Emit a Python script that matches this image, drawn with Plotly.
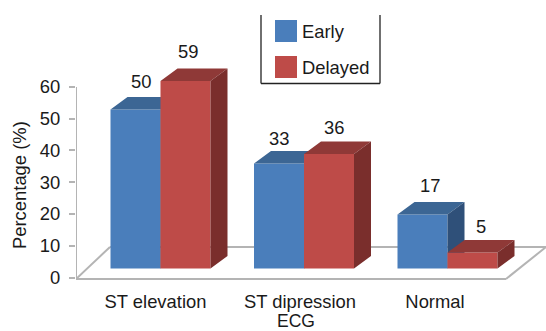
import plotly.graph_objects as go

categories = ["ST elevation", "ST dipression", "Normal"]
early = [50, 33, 17]
delayed = [59, 36, 5]
y_ticks = [0, 10, 20, 30, 40, 50, 60]

W, H = 546, 331
L, R, T, B = 76, 0, 0, 48
PX_Y = 3.18          # px per percentage point
PX_X = 143.5         # px per category
Y0_PX = 277.5        # pixel row of value 0
X0_PX = 160.5        # pixel column of the first category
xr = [(L - X0_PX) / PX_X, (W - R - X0_PX) / PX_X]
yr = [(Y0_PX - (H - B)) / PX_Y, Y0_PX / PX_Y]
BAR_W = 50 / PX_X
DX = 17 / PX_X
DY = 12.5 / PX_Y
BASE = 9 / PX_Y

BLUE, BLUE_TOP, BLUE_SIDE = "#4A7EBB", "#3C6694", "#2F5079"
RED, RED_TOP, RED_SIDE = "#BE4B48", "#8F3937", "#7A2E2C"
GRAY = "#B4B4B4"
FONT = "Liberation Sans, Arial, sans-serif"
TXT = "#1a1a1a"
FS = 18.4


def faces(values, left_offset):
    top_x, top_y, side_x, side_y = [], [], [], []
    for i, v in enumerate(values):
        x0 = i + left_offset
        x1 = x0 + BAR_W
        t = BASE + v
        top_x += [x0, x1, x1 + DX, x0 + DX, x0, None]
        top_y += [t, t, t + DY, t + DY, t, None]
        side_x += [x1, x1 + DX, x1 + DX, x1, x1, None]
        side_y += [BASE, BASE + DY, t + DY, t, BASE, None]
    return top_x, top_y, side_x, side_y


fig = go.Figure()


def add_series(name, values, left_offset, colors, xa, ya):
    front, top, side = colors
    fig.add_bar(x=list(range(3)), y=values, base=BASE, offset=left_offset, width=BAR_W,
                name=name, marker=dict(color=front, line=dict(width=0)),
                xaxis=xa, yaxis=ya, showlegend=False)
    tx, ty, sx, sy = faces(values, left_offset)
    for xs, ys, c in ((tx, ty, top), (sx, sy, side)):
        fig.add_scatter(x=xs, y=ys, mode="lines", fill="toself", fillcolor=c,
                        line=dict(width=0, color=c), xaxis=xa, yaxis=ya,
                        showlegend=False, hoverinfo="skip")


add_series("Early", early, -BAR_W, (BLUE, BLUE_TOP, BLUE_SIDE), "x2", "y2")
add_series("Delayed", delayed, 0, (RED, RED_TOP, RED_SIDE), "x3", "y3")


def px(x):
    return (x - L) / (W - L - R)


def py(y):
    return (H - B - y) / (H - B - T)


def dx_px(x):
    return (x - X0_PX) / PX_X


def dy_px(y):
    return (Y0_PX - y) / PX_Y


shapes = []
floor = [((76, 279), (506, 279)), ((506, 279), (546, 247)), ((546, 247), (110, 247)), ((110, 247), (76, 279)),
         ((76, 279), (76, 87))]
for (a, b) in floor:
    shapes.append(dict(type="line", xref="x", yref="y", x0=dx_px(a[0]), y0=dy_px(a[1]),
                       x1=dx_px(b[0]), y1=dy_px(b[1]), layer="below",
                       line=dict(color=GRAY, width=2)))
# legend frame (open at the top) and swatches
for x0, y0, x1, y1 in ((261, 15, 261, 83.5), (261, 83.5, 380, 83.5), (380, 83.5, 380, 15)):
    shapes.append(dict(type="line", xref="paper", yref="paper", x0=px(x0), y0=py(y0), x1=px(x1), y1=py(y1),
                       line=dict(color="#222222", width=1.3)))
for y0, c in ((20, BLUE), (56, RED)):
    shapes.append(dict(type="rect", xref="paper", yref="paper", x0=px(275), x1=px(297), y0=py(y0), y1=py(y0 + 22),
                       fillcolor=c, line=dict(width=0)))

annotations = []


def note(text, x, y, angle=0, xanchor="center", size=FS):
    annotations.append(dict(text=text, xref="paper", yref="paper", x=px(x), y=py(y), showarrow=False,
                            xanchor=xanchor, yanchor="middle", textangle=angle, borderpad=0,
                            font=dict(family=FONT, size=size, color=TXT)))


note("Early", 300.5, 31.5, xanchor="left")
note("Delayed", 300.5, 67.5, xanchor="left")
note("ECG", 296, 321, size=17.5)
note("Percentage (%)", 19, 185, angle=-90)

# data labels: offsets from the top of each front face, in px
early_shift = [(5.5, 28), (0, 25), (7.5, 29)]
delayed_shift = [(2.5, 29.5), (5, 27), (8, 26)]
for vals, off, shift in ((early, -BAR_W / 2, early_shift), (delayed, BAR_W / 2, delayed_shift)):
    for i, v in enumerate(vals):
        annotations.append(dict(text=str(v), x=i + off, y=BASE + v, xref="x", yref="y", showarrow=False,
                                xanchor="center", yanchor="middle", xshift=shift[i][0], yshift=shift[i][1],
                                font=dict(family=FONT, size=FS, color=TXT)))

hidden = dict(visible=False, fixedrange=True)
fig.update_layout(
    width=W, height=H, margin=dict(l=L, r=R, t=T, b=B), autosize=False,
    paper_bgcolor="white", plot_bgcolor="white", barmode="overlay", showlegend=False,
    font=dict(family=FONT, size=FS, color=TXT),
    xaxis=dict(range=xr, domain=[0, 1], tickmode="array",
               tickvals=[dx_px(155.5), dx_px(300), dx_px(435)], ticktext=categories,
               ticks="outside", ticklen=2, tickcolor="rgba(0,0,0,0)", showgrid=False, zeroline=False, showline=False),
    yaxis=dict(range=yr, domain=[0, 1], tickmode="array", tickvals=y_ticks, ticktext=[str(v) for v in y_ticks],
               ticks="outside", ticklen=6, tickcolor=GRAY, tickwidth=1.5, ticklabelstandoff=5,
               showgrid=False, zeroline=False, showline=False),
    xaxis2=dict(range=xr, overlaying="x", **hidden),
    yaxis2=dict(range=yr, overlaying="y", **hidden),
    xaxis3=dict(range=xr, overlaying="x", **hidden),
    yaxis3=dict(range=yr, overlaying="y", **hidden),
    shapes=shapes, annotations=annotations,
)
fig.write_html("out.html", config={"displayModeBar": False},
               post_script="document.body.style.margin='0';document.documentElement.style.overflow='hidden';")
